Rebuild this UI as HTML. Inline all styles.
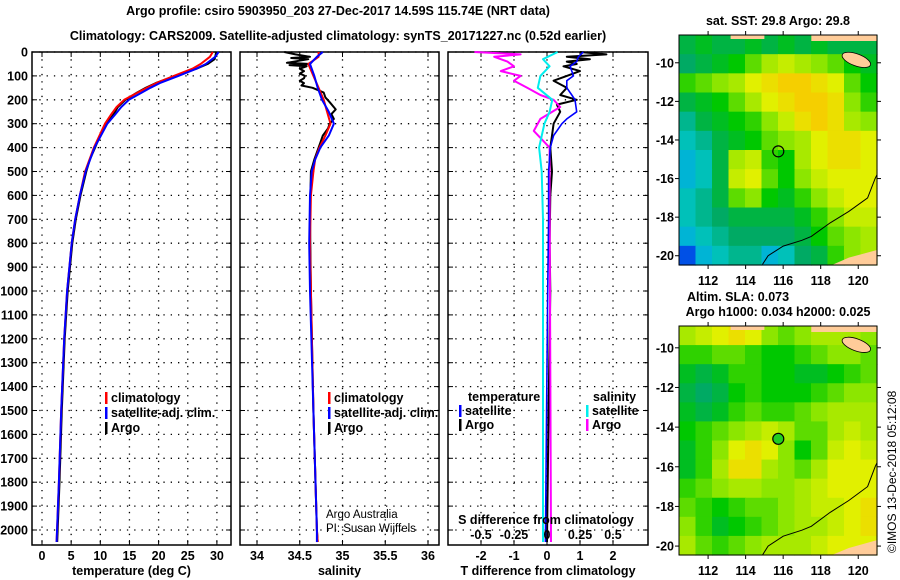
<!DOCTYPE html>
<html><head><meta charset="utf-8"><style>
body{margin:0;background:#fff;width:900px;height:580px;overflow:hidden}
svg{display:block;font-family:"Liberation Sans",sans-serif}
.b{font-weight:bold;font-size:12.5px}
</style></head><body>
<svg id="s" width="900" height="580" viewBox="0 0 900 580">
<rect width="900" height="580" fill="#fff"/>
<text class="b" x="338" y="15" text-anchor="middle" font-size="13">Argo profile: csiro 5903950_203 27-Dec-2017 14.59S 115.74E (NRT data)</text>
<text class="b" x="338" y="40" text-anchor="middle" font-size="13">Climatology: CARS2009. Satellite-adjusted climatology: synTS_20171227.nc (0.52d earlier)</text>
</svg>
<script>
const depthTicks=[0,100,200,300,400,500,600,700,800,900,1000,1100,1200,1300,1400,1500,1600,1700,1800,1900,2000];
const tempTicks=[0,5,10,15,20,25,30];
const salTicks=[34,34.5,35,35.5,36];
const tdTicks=[-2,-1,0,1,2];
const sdTicks=[-0.5,-0.25,0,0.25,0.5];
const sdTickLabels=["-0.5","-0.25","0","0.25","0.5"];
// temperature profiles
const tArgoD=[0,10,20,30,50,70,100,130,150,170,200,230,260,300,330,400,450,500,600,700,800,1000,1200,1500,1800,2050];
const tArgoV=[29.9,29.8,29.7,29.6,28.4,26.5,22.8,19.5,17.8,16.3,14.3,13.0,12.3,11.1,10.3,9.1,8.2,7.6,6.6,5.8,5.2,4.4,3.9,3.4,3.0,2.6];
const tClimD=[0,20,50,70,100,130,150,170,200,230,260,300,400,500,600,700,800,1000,1200,1500,1800,2050];
const tClimV=[29.3,28.8,27.2,25.8,22.6,19.6,18.0,16.4,14.1,12.8,11.9,10.8,8.9,7.4,6.5,5.7,5.1,4.3,3.8,3.3,2.9,2.5];
const tSatD=[0,20,50,70,100,130,150,170,200,230,260,300,400,500,600,700,800,1000,1200,1500,1800,2050];
const tSatV=[30.3,29.7,28.1,26.5,23.4,20.2,18.6,17.1,14.9,13.6,12.6,11.2,9.0,7.5,6.5,5.7,5.1,4.3,3.8,3.3,2.9,2.5];
// salinity profiles
const sArgoD=[0,10,20,25,30,45,50,55,60,70,80,90,100,110,120,130,140,150,170,190,210,240,260,280,300,320,350,380,400,450,500,700,1000,1500,2000,2050];
const sArgoV=[34.32,34.45,34.62,34.4,34.6,34.35,34.62,34.38,34.58,34.5,34.55,34.5,34.56,34.55,34.5,34.55,34.52,34.65,34.78,34.8,34.85,34.92,34.87,34.9,34.85,34.83,34.77,34.74,34.72,34.67,34.63,34.62,34.63,34.66,34.7,34.71];
const sClimD=[0,20,50,100,150,200,250,300,350,400,450,500,600,800,1000,1500,2000,2050];
const sClimV=[34.72,34.72,34.6,34.66,34.72,34.78,34.82,34.86,34.8,34.73,34.68,34.66,34.63,34.62,34.63,34.66,34.7,34.71];
const sSatD=[0,20,50,100,150,200,250,300,350,400,450,500,600,800,1000,1500,2000,2050];
const sSatV=[34.77,34.7,34.62,34.67,34.71,34.76,34.84,34.9,34.84,34.74,34.68,34.64,34.62,34.61,34.62,34.66,34.7,34.7];
// differences
const dTSatD=[0,20,40,60,80,100,120,150,180,200,250,280,300,350,400,500,700,1000,2050];
const dTSatV=[1.1,0.95,0.9,0.7,0.75,0.8,0.6,0.6,0.75,0.85,0.9,0.6,0.45,0.2,0.1,0.05,0.05,0.02,-0.05];
const dTArgoD=[0,10,20,30,40,50,60,80,100,120,150,180,200,220,250,300,350,400,500,600,800,1000,1500,2050];
const dTArgoV=[1.0,1.8,0.6,1.3,0.6,0.9,0.5,1.0,0.6,0.2,0.6,0.4,0.9,0.3,0.4,0.2,0.15,0.1,0.15,0.1,0.08,0.1,0.05,0];
const dSSatD=[0,30,60,100,150,200,250,300,400,500,700,2050];
const dSSatV=[0.08,-0.03,0.02,-0.05,-0.07,0.04,0.02,-0.02,-0.06,-0.04,-0.03,-0.03];
const dSArgoD=[0,10,20,40,60,80,100,120,150,180,200,230,280,330,400,600,2050];
const dSArgoV=[-0.55,-0.2,-0.4,-0.3,-0.25,-0.35,-0.2,-0.25,-0.15,-0.05,0.05,0.1,-0.05,-0.1,0.02,0.02,0.03];
// maps (coarse grids, rows north->south, cols west->east)
const sstGrid=[
[.3,.35,.3,.3,.35,.3,.35,.3,.35,.3,.3,.3],
[.25,.3,.35,.4,.5,.6,.65,.6,.55,.5,.4,.35],
[.45,.5,.55,.6,.7,.75,.8,.8,.75,.7,.5,.4],
[.3,.35,.4,.5,.6,.7,.75,.8,.8,.75,.55,.45],
[.2,.3,.35,.4,.45,.55,.65,.75,.8,.75,.6,.55],
[.15,.2,.3,.35,.4,.5,.55,.6,.7,.75,.75,.7],
[.1,.15,.3,.6,.65,.45,.4,.6,.7,.75,.75,.7],
[.1,.15,.3,.65,.7,.5,.4,.55,.65,.7,.7,.7],
[.15,.2,.3,.5,.55,.4,.35,.45,.55,.65,.7,.7],
[.15,.2,.25,.3,.3,.3,.3,.35,.45,.55,.65,.65],
[.1,.15,.2,.25,.25,.25,.25,.3,.4,.5,.55,.6],
[0,.1,.15,.2,.2,.1,.15,.25,.3,.45,.55,.6]];
const slaGrid=[
[.6,.65,.7,.75,.7,.55,.5,.55,.6,.6,.6,.55],
[.45,.45,.5,.5,.45,.4,.4,.45,.5,.55,.55,.5],
[.35,.3,.35,.45,.45,.4,.4,.35,.35,.4,.45,.5],
[.3,.25,.3,.4,.45,.4,.4,.4,.45,.5,.55,.55],
[.35,.3,.35,.45,.5,.45,.45,.5,.55,.6,.6,.6],
[.4,.45,.5,.55,.6,.65,.6,.5,.5,.6,.65,.6],
[.35,.45,.55,.7,.75,.7,.55,.4,.5,.65,.7,.65],
[.35,.45,.6,.75,.75,.6,.55,.5,.6,.7,.7,.7],
[.45,.5,.55,.6,.6,.55,.55,.6,.65,.7,.7,.7],
[.5,.45,.4,.45,.5,.5,.55,.6,.65,.65,.7,.75],
[.55,.45,.35,.4,.45,.5,.55,.6,.6,.65,.7,.75],
[.6,.5,.45,.5,.55,.6,.6,.6,.65,.7,.7,.7]];
const lonTicks=[112,114,116,118,120];
const latTicks=[-10,-12,-14,-16,-18,-20];
const coastLon=[114.9,115.2,116,117,117.5,118.5,119.5,120.5,120.9,121];
const coastLat=[-20.45,-20,-19.5,-19.2,-19.0,-18.3,-17.7,-17.0,-16.0,-15.8];

const S=document.getElementById('s');const NS='http://www.w3.org/2000/svg';
function mk(t,a,p){const e=document.createElementNS(NS,t);for(const k in a)e.setAttribute(k,a[k]);(p||S).appendChild(e);return e;}
const yD=d=>52+d*0.239;
const P1={x0:32,x1:231,f:v=>42+v*5.83};
const P2={x0:240,x1:439,f:v=>257+(v-34)*85.5};
const P3={x0:448,x1:648,f:v=>547+v*33};
const fS=v=>547+v*132;
function panel(P,name,ticks,labels,xlabel){
  const g=mk('g',{});
  depthTicks.forEach(d=>{const y=yD(d);
    mk('line',{x1:P.x0,x2:P.x1,y1:y,y2:y,stroke:'#000','stroke-dasharray':'1.3 6','stroke-width':1.3},g);
    mk('line',{x1:P.x0,x2:P.x0+5,y1:y,y2:y,stroke:'#000'},g);mk('line',{x1:P.x1-5,x2:P.x1,y1:y,y2:y,stroke:'#000'},g);});
  ticks.forEach((t,i)=>{const x=P.f(t);
    mk('line',{x1:x,x2:x,y1:52,y2:545,stroke:'#000','stroke-dasharray':'1.3 6','stroke-width':1.3},g);
    mk('line',{x1:x,x2:x,y1:545,y2:540,stroke:'#000'},g);mk('line',{x1:x,x2:x,y1:52,y2:57,stroke:'#000'},g);
    const tx=mk('text',{x:x,y:560,'text-anchor':'middle','class':'b'},g);tx.textContent=labels[i];
    
    });
  mk('rect',{x:P.x0,y:52,width:P.x1-P.x0,height:493,fill:'none',stroke:'#000','stroke-width':1.5},g);
  const xl=mk('text',{x:(P.x0+P.x1)/2,y:575,'text-anchor':'middle','class':'b'},g);xl.textContent=xlabel;
  
  
  return g;}
function line(D,V,fx,col,w,name){const pts=D.map((d,i)=>fx(V[i]).toFixed(1)+','+yD(d).toFixed(1)).join(' ');
  const e=mk('polyline',{points:pts,fill:'none',stroke:col,'stroke-width':w,'stroke-linejoin':'round'});
  
  }
panel(P1,'temperature-panel',tempTicks,tempTicks.map(String),'temperature (deg C)');
panel(P2,'salinity-panel',salTicks,salTicks.map(String),'salinity');
panel(P3,'difference-panel',tdTicks,tdTicks.map(String),'T difference from climatology');
depthTicks.forEach(d=>{const t=mk('text',{x:28,y:yD(d)+4.5,'text-anchor':'end','class':'b'});t.textContent=d;
  
  });
line(tArgoD,tArgoV,P1.f,'#000',2,'temp-argo-line');
line(tClimD,tClimV,P1.f,'#f00',2,'temp-climatology-line');
line(tSatD,tSatV,P1.f,'#00f',2,'temp-satellite-line');
line(sArgoD,sArgoV,P2.f,'#000',2,'sal-argo-line');
line(sClimD,sClimV,P2.f,'#f00',2,'sal-climatology-line');
line(sSatD,sSatV,P2.f,'#00f',2,'sal-satellite-line');
line(dTArgoD,dTArgoV,P3.f,'#000',2,'tdiff-argo-line');
line(dSArgoD,dSArgoV,fS,'#f0f',2,'sdiff-argo-line');
line(dSSatD,dSSatV,fS,'#0ee',2,'sdiff-satellite-line');
line(dTSatD,dTSatV,P3.f,'#00f',1.6,'tdiff-satellite-line');
sdTicks.forEach((t,i)=>{const x=fS(t);const tx=mk('text',{x:x,y:539,'text-anchor':'middle','class':'b'});tx.textContent=sdTickLabels[i];
  
  });
function txt(x,y,s,name,extra){const t=mk('text',Object.assign({x:x,y:y,'class':'b'},extra||{}));t.textContent=s;
  
  return t;}
txt(546,524,'S difference from climatology','sdiff-axis-title',{'text-anchor':'middle'});
function leg(x,y,col,s,name){mk('rect',{x:x,y:y-10,width:2.5,height:12,fill:col});txt(x+6,y,s,name);}
leg(105,402,'#f00','climatology','legend-climatology');leg(105,417,'#00f','satellite-adj. clim.','legend-satellite');leg(105,432,'#000','Argo','legend-argo');
leg(328,402,'#f00','climatology','legend-climatology');leg(328,417,'#00f','satellite-adj. clim.','legend-satellite');leg(328,432,'#000','Argo','legend-argo');
txt(468,401,'temperature','legend-temperature-heading');txt(593,401,'salinity','legend-salinity-heading');
leg(459,415,'#00f','satellite','legend-t-satellite');leg(459,429,'#000','Argo','legend-t-argo');
leg(586,415,'#0ee','satellite','legend-s-satellite');leg(586,429,'#f0f','Argo','legend-s-argo');
txt(326,518,'Argo Australia','credit-line-1',{'font-weight':'normal','font-size':'11.5px','class':''});
txt(326,532,'PI: Susan Wijffels','credit-line-2',{'font-weight':'normal','font-size':'11.5px','class':''});
// maps
const stops=[[0,[0,80,230]],[.12,[0,200,210]],[.25,[0,170,100]],[.4,[0,200,0]],[.55,[140,230,0]],[.7,[225,240,0]],[.85,[255,190,0]],[1,[255,150,0]]];
function cmap(v){for(let i=1;i<stops.length;i++){if(v<=stops[i][0]){const a=stops[i-1],b=stops[i],t=(v-a[0])/(b[0]-a[0]);
  return 'rgb('+a[1].map((c,k)=>Math.round(c+(b[1][k]-c)*t)).join(',')+')';}}return 'rgb(255,150,0)';}
function map(grid,y0,y1,latTop,latBot,name){
  const x0=679,x1=877,lonL=110.45,lonR=121.0;
  const fx=l=>x0+(l-lonL)/(lonR-lonL)*(x1-x0),fy=l=>y0+(latTop-l)/(latTop-latBot)*(y1-y0);
  const g=mk('g',{});
  const R=grid.length,C=grid[0].length,cw=(x1-x0)/C,ch=(y1-y0)/R;
  grid.forEach((row,r)=>row.forEach((v,c)=>mk('rect',{x:x0+c*cw,y:y0+r*ch,width:cw+0.6,height:ch+0.6,fill:cmap(v)},g)));
  mk('polygon',{points:[[fx(121),fy(-15.8)],[fx(121),fy(latBot)],[fx(118.6),fy(latBot)],[fx(119.5),fy(-20.1)],[fx(121),fy(-19.7)]].map(p=>p.join(',')).join(' '),fill:'#fc9'},g);
  mk('ellipse',{cx:fx(119.9),cy:fy(-9.85),rx:15,ry:6,fill:'#fc9',stroke:'#000','stroke-width':0.8,transform:'rotate(20 '+fx(119.9)+' '+fy(-9.85)+')'},g);
  mk('rect',{x:fx(117.5),y:y0,width:x1-fx(117.5),height:6,fill:'#fc9'},g);
  mk('rect',{x:fx(113.2),y:y0,width:fx(115)-fx(113.2),height:4,fill:'#fc9'},g);
  mk('polyline',{points:coastLon.map((l,i)=>fx(l).toFixed(1)+','+fy(coastLat[i]).toFixed(1)).join(' '),fill:'none',stroke:'#000','stroke-width':1},g);
  const dot=mk('circle',{cx:fx(115.74),cy:fy(-14.59),r:5.5,fill:name==='sla-map'?'#2c2':'none',stroke:'#000','stroke-width':1.2},g);
  
  
  mk('rect',{x:x0,y:y0,width:x1-x0,height:y1-y0,fill:'none',stroke:'#000','stroke-width':1},g);
  lonTicks.forEach(l=>{const x=fx(l);mk('line',{x1:x,x2:x,y1:y1,y2:y1+4,stroke:'#000'},g);mk('line',{x1:x,x2:x,y1:y0,y2:y0-4,stroke:'#000'},g);
    const t=mk('text',{x:x,y:y1+20,'text-anchor':'middle','class':'b'},g);t.textContent=l;
    
    });
  latTicks.forEach(l=>{const y=fy(l);mk('line',{x1:x0-4,x2:x0,y1:y,y2:y,stroke:'#000'},g);mk('line',{x1:x1,x2:x1+4,y1:y,y2:y,stroke:'#000'},g);
    const t=mk('text',{x:x0-5,y:y+4.5,'text-anchor':'end','class':'b'},g);t.textContent=l;
    
    });}
map(sstGrid,35,265,-8.56,-20.48,'sst-map');
map(slaGrid,326,555,-8.9,-20.45,'sla-map');
txt(778,25,'sat. SST: 29.8 Argo: 29.8','sst-map-title',{'text-anchor':'middle'});
txt(738,301,'Altim. SLA: 0.073','sla-map-title',{'text-anchor':'middle'});
txt(778,316,'Argo h1000: 0.034 h2000: 0.025','sla-map-subtitle',{'text-anchor':'middle'});
txt(0,0,'©IMOS 13-Dec-2018 05:12:08','timestamp',{'font-weight':'normal','font-size':'12px','class':'','transform':'translate(896,553) rotate(-90)'});
</script>
</body></html>
